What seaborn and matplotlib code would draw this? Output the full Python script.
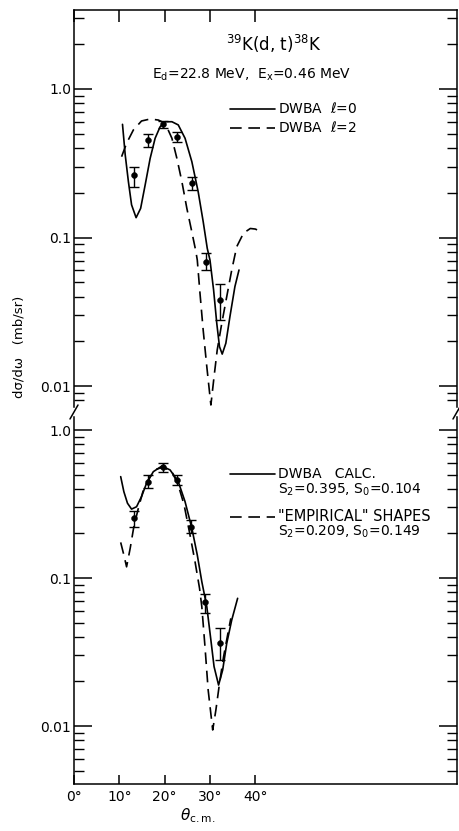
import numpy as np
import pandas as pd
import matplotlib
matplotlib.use("Agg")
import matplotlib.pyplot as plt
import seaborn as sns
from matplotlib.ticker import FixedLocator, LogLocator, NullFormatter, FixedFormatter
from matplotlib.lines import Line2D

# ---------------- data ----------------
# top panel: DWBA l=0 (solid)
top_l0_theta = [10.7, 11.3, 12.0, 12.7, 13.7, 14.7, 15.7, 16.8, 17.9, 19.0, 20.1, 21.6, 23.0,
                24.5, 26.0, 27.4, 28.5, 29.4, 30.0, 30.8, 31.5, 32.1, 32.7, 33.5, 34.4, 35.5, 36.4]
top_l0_sigma = [0.578, 0.36, 0.238, 0.166, 0.136, 0.157, 0.226, 0.341, 0.466, 0.557, 0.602, 0.602, 0.573,
                0.466, 0.324, 0.203, 0.128, 0.0845, 0.0705, 0.0443, 0.0264, 0.0184, 0.0164, 0.0194,
                0.0293, 0.0467, 0.0604]
# top panel: DWBA l=2 (dashed)
top_l2_theta = [10.5, 11.6, 13.1, 14.9, 16.8, 18.6, 20.1, 21.6, 22.7, 23.8, 24.9, 26.0, 26.9, 27.2,
                27.8, 28.5, 29.3, 30.2, 30.9, 31.6, 32.6, 33.7, 34.8, 35.9, 37.4, 38.9, 40.0, 41.1]
top_l2_sigma = [0.35, 0.431, 0.53, 0.609, 0.628, 0.618, 0.588, 0.466, 0.341, 0.238, 0.157, 0.109, 0.0802,
                0.0705, 0.042, 0.0238, 0.0135, 0.00745, 0.01155, 0.0175, 0.0264, 0.040, 0.0604, 0.0867,
                0.107, 0.115, 0.114, 0.11]

# bottom panel: DWBA calc (solid)
bot_calc_theta = [10.3, 11.0, 11.8, 12.7, 13.8, 14.9, 16.0, 17.5, 19.4, 21.2, 23.0, 24.5, 26.0, 27.2,
                  28.2, 29.3, 30.2, 30.9, 31.9, 32.8, 33.7, 34.8, 36.1]
bot_calc_sigma = [0.484, 0.383, 0.32, 0.292, 0.303, 0.355, 0.436, 0.523, 0.571, 0.537, 0.448, 0.328,
                  0.217, 0.143, 0.0944, 0.064, 0.0381, 0.0252, 0.0189, 0.0239, 0.0362, 0.052, 0.0729]
# bottom panel: "empirical" shapes (dashed)
bot_emp_theta = [10.3, 11.0, 11.6, 12.4, 13.2, 14.2, 15.3, 16.8, 18.3, 19.7, 21.6, 23.0, 24.3, 25.6,
                 26.7, 27.7, 28.2, 28.9, 29.6, 30.6, 31.3, 32.1, 33.0, 34.1, 34.6]
bot_emp_sigma = [0.174, 0.143, 0.119, 0.159, 0.222, 0.296, 0.393, 0.484, 0.545, 0.56, 0.523, 0.425,
                 0.311, 0.195, 0.129, 0.0851, 0.064, 0.0343, 0.0175, 0.0094, 0.0128, 0.0194, 0.0294,
                 0.0446, 0.0534]

# experimental points (with error bars)
top_exp_theta = [13.2, 16.3, 19.6, 22.7, 26.0, 29.1, 32.3]
top_exp_sigma = [0.264, 0.453, 0.578, 0.473, 0.232, 0.0687, 0.038]
top_exp_low = [0.22, 0.41, 0.55, 0.44, 0.21, 0.060, 0.028]
top_exp_high = [0.30, 0.50, 0.61, 0.51, 0.255, 0.079, 0.0486]

bot_exp_theta = [13.2, 16.4, 19.6, 22.8, 25.9, 28.9, 32.3]
bot_exp_sigma = [0.253, 0.448, 0.560, 0.46, 0.222, 0.0685, 0.0366]
bot_exp_low = [0.222, 0.404, 0.523, 0.425, 0.20, 0.0576, 0.0279]
bot_exp_high = [0.285, 0.496, 0.595, 0.497, 0.246, 0.0782, 0.0458]

x_ticks = [0, 10, 20, 30, 40]
x_tick_labels = ["0°", "10°", "20°", "30°", "40°"]
y_major = [0.01, 0.1, 1.0]
y_major_labels = ["0.01", "0.1", "1.0"]

# ---------------- figure ----------------
sns.set_style("ticks")
plt.rcParams['font.family'] = ['DejaVu Sans']
plt.rcParams['mathtext.fontset'] = 'dejavusans'
plt.rcParams['text.color'] = 'black'
plt.rcParams['axes.labelcolor'] = 'black'
plt.rcParams['xtick.color'] = 'black'
plt.rcParams['ytick.color'] = 'black'
plt.rcParams['axes.edgecolor'] = 'black'

W, H = 460, 831
fig = plt.figure(figsize=(W / 100, H / 100), dpi=100)


def rect(l, t, r, b):
    return [l / W, 1 - b / H, (r - l) / W, (b - t) / H]


ax1 = fig.add_axes(rect(74, 10, 457, 407))
ax2 = fig.add_axes(rect(74, 417, 457, 784))

lw = 1.2
dash = (0, (7, 4))

for ax in (ax1, ax2):
    ax.set_yscale('log')
    ax.set_xlim(0, 84.5)
    for s in ax.spines.values():
        s.set_linewidth(1.1)
        s.set_color('black')
    ax.yaxis.set_major_locator(FixedLocator(y_major))
    ax.yaxis.set_major_formatter(FixedFormatter(y_major_labels))
    ax.yaxis.set_minor_locator(LogLocator(base=10, subs=np.arange(2, 10)))
    ax.yaxis.set_minor_formatter(NullFormatter())
    ax.tick_params(axis='y', which='major', direction='in', length=13, width=1.1,
                   left=True, right=True, labelsize=10, pad=2, colors='black')
    ax.tick_params(axis='y', which='minor', direction='in', length=7, width=1.0,
                   left=True, right=True, colors='black')
    ax.set_xticks(x_ticks)
    ax.xaxis.set_minor_locator(FixedLocator([]))

ax1.set_ylim(10 ** ((89 - 407) / 148.5), 10 ** ((89 - 10) / 148.5))
ax2.set_ylim(10 ** ((430 - 784) / 148.0), 10 ** ((430 - 417) / 148.0))

ax1.spines['bottom'].set_visible(False)
ax2.spines['top'].set_visible(False)
ax1.tick_params(axis='x', which='major', direction='in', length=8.5, width=1.1,
                top=True, bottom=False, labelbottom=False, labeltop=False, colors='black')
ax2.tick_params(axis='x', which='major', direction='in', length=6.5, width=1.1,
                top=False, bottom=True, labelsize=10, pad=4, colors='black')
ax2.set_xticklabels(x_tick_labels)

# curves
df_l0 = pd.DataFrame({"theta": top_l0_theta, "sigma": top_l0_sigma})
df_l2 = pd.DataFrame({"theta": top_l2_theta, "sigma": top_l2_sigma})
df_calc = pd.DataFrame({"theta": bot_calc_theta, "sigma": bot_calc_sigma})
df_emp = pd.DataFrame({"theta": bot_emp_theta, "sigma": bot_emp_sigma})

sns.lineplot(data=df_l0, x="theta", y="sigma", ax=ax1, color='black', lw=lw, sort=False)
sns.lineplot(data=df_l2, x="theta", y="sigma", ax=ax1, color='black', lw=lw, sort=False,
             linestyle=dash)
sns.lineplot(data=df_calc, x="theta", y="sigma", ax=ax2, color='black', lw=lw, sort=False)
sns.lineplot(data=df_emp, x="theta", y="sigma", ax=ax2, color='black', lw=lw, sort=False,
             linestyle=dash)

# experimental points
for ax, th, sg, lo, hi in ((ax1, top_exp_theta, top_exp_sigma, top_exp_low, top_exp_high),
                           (ax2, bot_exp_theta, bot_exp_sigma, bot_exp_low, bot_exp_high)):
    sg = np.array(sg)
    yerr = np.vstack([sg - np.array(lo), np.array(hi) - sg])
    ax.errorbar(th, sg, yerr=yerr, fmt='none', ecolor='black', elinewidth=1.0,
                capsize=3.5, capthick=1.0)
    sns.scatterplot(x=th, y=sg, ax=ax, color='black', s=18, edgecolor='black', zorder=5)

for ax in (ax1, ax2):
    ax.set_xlabel("")
    ax.set_ylabel("")

# legends (keys drawn in axes coordinates)
fs = 10
ax1.add_line(Line2D([0.407, 0.525], [0.751, 0.751], transform=ax1.transAxes, color='black', lw=lw))
ax1.text(0.532, 0.751, r"DWBA  $\ell$=0", transform=ax1.transAxes, va='center', ha='left', fontsize=fs)
ax1.add_line(Line2D([0.407, 0.525], [0.703, 0.703], transform=ax1.transAxes, color='black', lw=lw,
                    linestyle=dash))
ax1.text(0.532, 0.703, r"DWBA  $\ell$=2", transform=ax1.transAxes, va='center', ha='left', fontsize=fs)

ax2.add_line(Line2D([0.407, 0.525], [0.844, 0.844], transform=ax2.transAxes, color='black', lw=lw))
ax2.text(0.532, 0.844, "DWBA   CALC.", transform=ax2.transAxes, va='center', ha='left', fontsize=fs)
ax2.text(0.532, 0.802, r"S$_2$=0.395, S$_0$=0.104", transform=ax2.transAxes, va='center', ha='left', fontsize=fs)
ax2.add_line(Line2D([0.407, 0.525], [0.728, 0.728], transform=ax2.transAxes, color='black', lw=lw,
                    linestyle=dash))
ax2.text(0.532, 0.728, '"EMPIRICAL" SHAPES', transform=ax2.transAxes, va='center', ha='left', fontsize=fs + 0.5)
ax2.text(0.532, 0.686, r"S$_2$=0.209, S$_0$=0.149", transform=ax2.transAxes, va='center', ha='left', fontsize=fs)

# titles
fig.text(274 / W, 1 - 44 / H, r"$^{39}$K(d, t)$^{38}$K", ha='center', va='center', fontsize=12)
fig.text(252 / W, 1 - 75 / H, r"E$_{\rm d}$=22.8 MeV,  E$_{\rm x}$=0.46 MeV", ha='center', va='center',
         fontsize=10)

# axis labels
fig.text(19 / W, 1 - 347 / H, "dσ/dω   (mb/sr)", rotation=90, ha='center', va='center', fontsize=9.5)
fig.text(180 / W, 1 - 816 / H, r"$\theta_{\rm c.m.}$", ha='left', va='center', fontsize=11)

# axis break marks
for xp in (74, 457):
    fig.add_artist(Line2D([(xp - 4) / W, (xp + 4) / W], [1 - 419 / H, 1 - 405 / H],
                          transform=fig.transFigure, color='black', lw=1.1))

fig.savefig("out.png", dpi=100, facecolor='white')
